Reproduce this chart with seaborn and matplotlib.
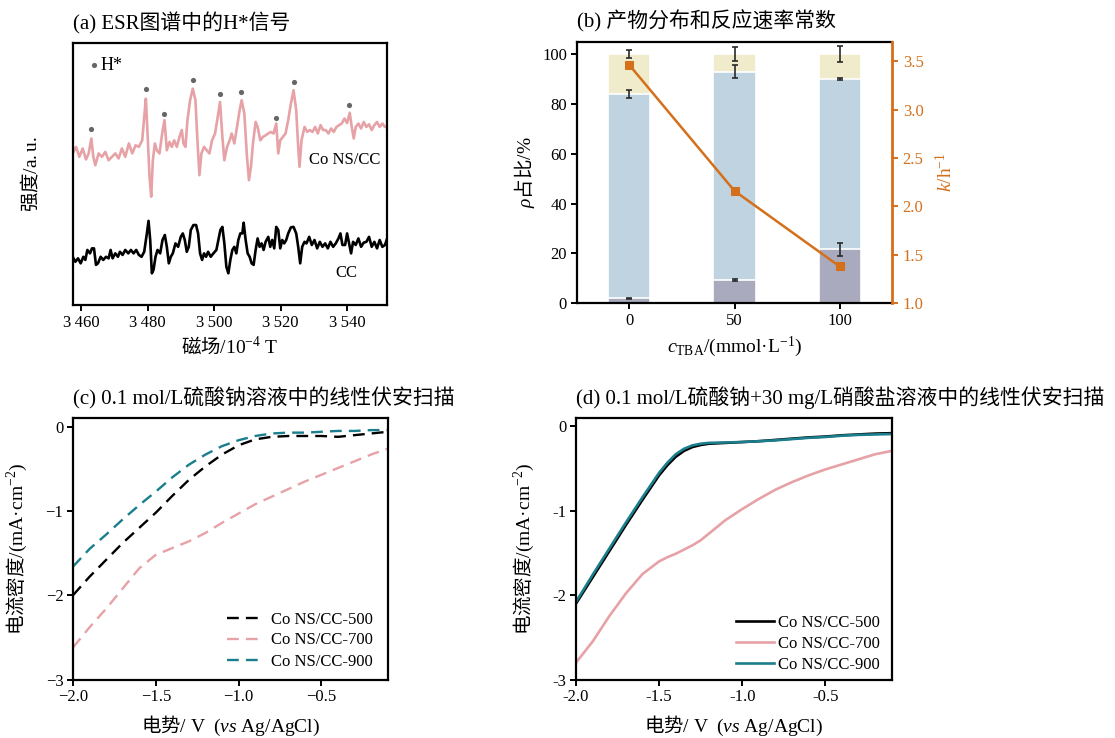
import numpy as np
import pandas as pd
import matplotlib
matplotlib.use('Agg')
import matplotlib.pyplot as plt
from matplotlib.ticker import FormatStrFormatter, FuncFormatter
import seaborn as sns

# ---------------- fonts ----------------
CJK = 'Noto Sans CJK SC'
plt.rcParams['font.family'] = ['Liberation Serif', CJK, 'DejaVu Sans']
plt.rcParams['mathtext.fontset'] = 'custom'
plt.rcParams['mathtext.rm'] = 'Liberation Serif'
plt.rcParams['mathtext.it'] = 'Liberation Serif:italic'
plt.rcParams['mathtext.bf'] = 'Liberation Serif:bold'
plt.rcParams['axes.unicode_minus'] = True
plt.rcParams['axes.linewidth'] = 1.6

PINK = '#e6a2a6'
TEAL = '#1a7e8d'
ORANGE = '#d4701b'
BEIGE = '#efebcb'
BLUE = '#bfd3e0'
GREY = '#a9aabd'

# ---------------- (a) ESR 数据 ----------------
pink_field = [
    3457.5, 3458.5, 3459.5, 3460.5, 3461.5, 3462.3, 3463.1, 3463.7, 3464.3, 3465.3,
    3466.3, 3467.3, 3468.3, 3469.3, 3470.3, 3471.3, 3472.3, 3473.3, 3474.4, 3475.4,
    3476.4, 3477.4, 3478.4, 3479.0, 3479.5, 3480.1, 3480.6, 3481.1, 3481.6, 3482.2,
    3482.8, 3483.6, 3484.4, 3485.1, 3485.8, 3486.6, 3487.3, 3488.0, 3488.8, 3489.6,
    3490.3, 3490.8, 3491.4, 3492.0, 3492.8, 3493.6, 3494.4, 3495.0, 3495.6, 3496.2,
    3497.0, 3497.8, 3498.6, 3499.4, 3500.3, 3501.1, 3501.8, 3502.5, 3503.1, 3503.9,
    3504.7, 3505.3, 3506.1, 3506.9, 3507.7, 3508.3, 3509.1, 3509.9, 3510.5, 3511.1,
    3511.7, 3512.5, 3513.1, 3513.9, 3514.7, 3515.5, 3516.3, 3517.1, 3517.9, 3518.7,
    3519.3, 3519.9, 3520.7, 3521.5, 3522.3, 3523.1, 3523.9, 3524.7, 3525.3, 3525.7,
    3526.3, 3527.2, 3528.0, 3528.8, 3529.6, 3530.4, 3531.2, 3532.0, 3532.8, 3533.6,
    3534.4, 3535.2, 3536.0, 3536.8, 3537.6, 3538.4, 3539.2, 3540.0, 3540.8, 3541.4,
    3542.0, 3542.6, 3543.4, 3544.2, 3545.0, 3545.8, 3546.6, 3547.4, 3548.2, 3549.0,
    3549.8, 3550.6, 3551.4, 3552.2]
pink_int = [
    57.9, 60.4, 56.6, 59.8, 55.6, 57.9, 63.6, 56.6, 53.4, 57.9,
    56.6, 58.5, 55.3, 56.6, 57.9, 56.0, 59.8, 56.6, 61.7, 57.9,
    61.0, 60.4, 62.9, 71.8, 78.8, 62.9, 49.0, 41.4, 55.3, 61.7,
    59.1, 57.9, 65.5, 70.6, 59.1, 62.3, 60.4, 62.9, 60.4, 64.2,
    66.8, 61.7, 60.4, 70.6, 78.2, 82.6, 78.2, 62.9, 49.6, 57.9,
    60.4, 59.1, 57.9, 62.9, 65.5, 71.8, 77.5, 64.2, 55.3, 60.4,
    62.9, 65.5, 61.7, 68.0, 74.4, 78.2, 73.1, 56.6, 47.7, 52.8,
    61.7, 69.9, 68.0, 62.9, 64.2, 64.8, 65.5, 66.1, 65.5, 69.3,
    57.9, 62.9, 64.2, 65.5, 70.6, 76.9, 82.0, 74.4, 60.4, 52.8,
    62.9, 68.0, 66.1, 66.8, 66.1, 68.0, 65.5, 68.7, 66.8, 66.8,
    65.5, 67.4, 66.1, 68.0, 68.7, 69.3, 71.2, 69.5, 73.4, 68.0,
    63.6, 68.0, 69.3, 67.4, 69.9, 68.0, 69.0, 66.8, 68.7, 69.9,
    68.0, 69.3, 68.0, 68.3]

cc_field = [
    3457.5, 3458.3, 3459.1, 3459.9, 3460.7, 3461.3, 3461.9, 3462.7, 3463.3, 3463.9,
    3464.5, 3465.1, 3465.9, 3466.7, 3467.5, 3468.3, 3468.9, 3469.5, 3470.3, 3471.1,
    3471.7, 3472.5, 3473.3, 3474.2, 3475.0, 3475.8, 3476.6, 3477.4, 3478.2, 3479.0,
    3479.8, 3480.3, 3480.8, 3481.3, 3481.8, 3482.4, 3483.0, 3483.8, 3484.5, 3485.2,
    3485.8, 3486.4, 3487.0, 3487.6, 3488.4, 3489.2, 3490.0, 3490.6, 3491.2, 3491.8,
    3492.4, 3493.0, 3493.8, 3494.6, 3495.2, 3495.8, 3496.4, 3497.0, 3497.6, 3498.2,
    3499.0, 3499.8, 3500.7, 3501.3, 3501.9, 3502.5, 3503.1, 3503.7, 3504.3, 3504.9,
    3505.5, 3506.1, 3506.7, 3507.3, 3507.9, 3508.5, 3508.9, 3509.5, 3510.1, 3510.7,
    3511.3, 3511.9, 3512.5, 3513.1, 3513.7, 3514.3, 3514.9, 3515.5, 3516.3, 3516.9,
    3517.5, 3518.1, 3518.7, 3519.3, 3519.9, 3520.5, 3521.1, 3521.7, 3522.3, 3523.1,
    3523.9, 3524.7, 3525.3, 3525.9, 3526.5, 3527.2, 3527.8, 3528.6, 3529.4, 3530.2,
    3531.0, 3531.8, 3532.6, 3533.4, 3534.2, 3535.0, 3535.8, 3536.6, 3537.4, 3538.0,
    3538.6, 3539.4, 3540.0, 3540.6, 3541.2, 3541.8, 3542.6, 3543.4, 3544.2, 3545.0,
    3545.8, 3546.6, 3547.4, 3548.2, 3549.0, 3549.8, 3550.6, 3551.4, 3552.2]
cc_int = [
    18.5, 16.6, 17.9, 16.0, 18.5, 17.3, 21.1, 19.8, 21.7, 21.7,
    15.4, 16.0, 18.5, 17.3, 18.5, 17.9, 21.1, 17.9, 19.8, 18.5,
    20.4, 19.2, 21.1, 19.8, 21.1, 19.8, 21.1, 19.2, 18.5, 20.4,
    27.4, 32.2, 24.9, 12.2, 13.5, 18.5, 21.1, 19.8, 24.9, 26.8,
    22.3, 16.0, 18.5, 19.8, 23.6, 22.3, 26.1, 27.4, 24.9, 20.4,
    22.3, 28.7, 30.6, 30.6, 27.4, 19.8, 17.3, 19.8, 18.5, 20.4,
    18.5, 19.8, 21.1, 24.9, 28.7, 29.9, 23.6, 14.7, 12.2, 17.3,
    21.1, 22.3, 19.8, 24.9, 27.4, 27.4, 31.5, 24.9, 19.8, 18.5,
    16.0, 15.4, 21.1, 25.5, 22.3, 23.6, 21.1, 24.2, 26.1, 22.3,
    24.9, 21.7, 29.9, 28.7, 21.7, 24.9, 23.6, 24.9, 27.4, 29.7,
    29.9, 27.4, 22.3, 16.0, 22.3, 24.2, 23.6, 26.1, 23.0, 24.9,
    21.7, 24.2, 22.3, 23.6, 21.7, 24.2, 22.3, 23.6, 25.5, 27.4,
    23.0, 23.0, 27.4, 23.6, 19.8, 24.2, 23.0, 25.5, 22.3, 23.9,
    24.2, 26.1, 22.3, 24.2, 21.7, 24.9, 22.3, 23.0, 26.1]

# H* 信号峰位置
hstar_field = [3463.0, 3479.5, 3485.0, 3493.6, 3501.9, 3508.1, 3518.7, 3523.9, 3540.7]
hstar_int = [67.4, 82.5, 72.8, 85.8, 80.7, 81.5, 71.3, 85.0, 76.5]
esr_ticks = [3460, 3480, 3500, 3520, 3540]
esr_ticklabels = ['3\u2009460', '3\u2009480', '3\u2009500', '3\u2009520', '3\u2009540']

# ---------------- (b) 产物分布 ----------------
c_tba = [0, 50, 100]
share_bottom = [2.0, 9.4, 21.6]
share_middle = [82.0, 83.6, 68.4]
share_top = [16.0, 7.0, 10.0]
err_bottom = [0.3, 0.3, 2.6]
err_middle = [1.5, 2.7, 0.5]
err_top = [1.6, 2.8, 3.3]
k_rate = [3.46, 2.16, 1.38]

# ---------------- (c) LSV 硫酸钠 ----------------
v_c = [-2.0, -1.9, -1.8, -1.7, -1.6, -1.5, -1.4, -1.3, -1.2, -1.1,
       -1.0, -0.9, -0.8, -0.7, -0.6, -0.5, -0.4, -0.3, -0.2, -0.1]
c_500 = [-2.00, -1.78, -1.58, -1.38, -1.20, -1.02, -0.82, -0.63, -0.47, -0.33,
         -0.22, -0.15, -0.12, -0.11, -0.11, -0.11, -0.12, -0.10, -0.08, -0.06]
c_700 = [-2.62, -2.38, -2.16, -1.92, -1.68, -1.52, -1.44, -1.36, -1.26, -1.14,
         -1.03, -0.92, -0.83, -0.74, -0.65, -0.57, -0.49, -0.41, -0.33, -0.26]
c_900 = [-1.66, -1.45, -1.28, -1.10, -0.93, -0.77, -0.60, -0.45, -0.33, -0.23,
         -0.16, -0.11, -0.08, -0.07, -0.07, -0.06, -0.05, -0.05, -0.04, -0.04]

# ---------------- (d) LSV 硫酸钠+硝酸盐 ----------------
v_d = [-2.0, -1.9, -1.8, -1.7, -1.6, -1.5, -1.45, -1.4, -1.35, -1.3, -1.25, -1.2,
       -1.1, -1.0, -0.9, -0.8, -0.7, -0.6, -0.5, -0.4, -0.3, -0.2, -0.1]
d_500 = [-2.10, -1.79, -1.48, -1.17, -0.87, -0.58, -0.46, -0.36, -0.29, -0.245, -0.22, -0.205,
         -0.195, -0.185, -0.175, -0.16, -0.145, -0.13, -0.12, -0.105, -0.095, -0.085, -0.08]
d_900 = [-2.08, -1.76, -1.45, -1.14, -0.84, -0.55, -0.43, -0.33, -0.265, -0.225, -0.205, -0.195,
         -0.19, -0.185, -0.175, -0.165, -0.15, -0.135, -0.125, -0.11, -0.10, -0.095, -0.09]
d_700 = [-2.80, -2.55, -2.25, -1.98, -1.75, -1.60, -1.55, -1.51, -1.46, -1.41, -1.35, -1.27,
         -1.11, -0.98, -0.86, -0.75, -0.66, -0.58, -0.51, -0.45, -0.39, -0.33, -0.29]
lsv_labels = ['Co NS/CC-500', 'Co NS/CC-700', 'Co NS/CC-900']
lsv_ticks = [-2.0, -1.5, -1.0, -0.5]

# ==================== 画布 ====================
W, H = 1115, 738
fig = plt.figure(figsize=(W / 100, H / 100), dpi=100)


def box(l, t, r, b):
    return [l / W, 1 - b / H, (r - l) / W, (b - t) / H]


ax_a = fig.add_axes(box(72.7, 43, 387, 305.3))
ax_b = fig.add_axes(box(576.7, 41.7, 892.3, 303.3))
ax_c = fig.add_axes(box(73, 418.3, 387.7, 679.5))
ax_d = fig.add_axes(box(576, 418, 891.7, 679.5))

for ax in (ax_a, ax_b, ax_c, ax_d):
    ax.tick_params(direction='out', length=4, width=1.4, labelsize=12, pad=3)

TITLE_KW = dict(loc='left', fontsize=15, pad=10)

# ---------------- (a) ----------------
sns.lineplot(x=pink_field, y=pink_int, color=PINK, lw=1.9, estimator=None, ax=ax_a)
sns.lineplot(x=cc_field, y=cc_int, color='black', lw=1.9, estimator=None, ax=ax_a)
sns.scatterplot(x=hstar_field, y=hstar_int, color='#666666', s=14, linewidth=0, ax=ax_a)
ax_a.scatter([0.068], [0.915], s=14, color='#666666', linewidth=0, transform=ax_a.transAxes)
ax_a.text(0.09, 0.915, 'H*', transform=ax_a.transAxes, va='center', fontsize=13)
ax_a.text(0.978, 0.553, 'Co NS/CC', transform=ax_a.transAxes, ha='right', va='center', fontsize=12)
ax_a.text(0.87, 0.122, 'CC', transform=ax_a.transAxes, ha='center', va='center', fontsize=12)
ax_a.set_xlim(3457.5, 3552)
ax_a.set_ylim(0, 100)
ax_a.set_xticks(esr_ticks)
ax_a.set_xticklabels(esr_ticklabels)
ax_a.tick_params(axis='y', left=False, labelleft=False)
ax_a.set_xlabel(r'磁场$\mathrm{/10^{-4}\ T}$', fontfamily=CJK, fontsize=14, labelpad=4)
ax_a.set_ylabel(r'强度$\mathrm{/a.u.}$', fontfamily=CJK, fontsize=14, labelpad=22)
ax_a.set_title('(a) ESR图谱中的H*信号', **TITLE_KW)

# ---------------- (b) ----------------
level_mid = [b + m for b, m in zip(share_bottom, share_middle)]
level_top = [l + t for l, t in zip(level_mid, share_top)]
for lev, col in ((level_top, BEIGE), (level_mid, BLUE), (share_bottom, GREY)):
    sns.barplot(x=c_tba, y=lev, native_scale=True, width=0.4, color=col, saturation=1,
                errorbar=None, edgecolor='white', linewidth=1.2, ax=ax_b)
for lev, err in ((level_top, err_top), (level_mid, err_middle), (share_bottom, err_bottom)):
    ax_b.errorbar(c_tba, lev, yerr=err, fmt='none', ecolor='#2a2a2a', elinewidth=1.2,
                  capsize=2.5, capthick=1.2, zorder=3)
ax_b.set_xlim(-25, 125)
ax_b.set_ylim(0, 105)
ax_b.set_xticks(c_tba)
ax_b.set_yticks([0, 20, 40, 60, 80, 100])
ax_b.spines['right'].set_visible(False)
ax_b.set_xlabel(r'$c_{\mathrm{TBA}}\mathrm{/(mmol·L^{-1})}$', fontsize=14, labelpad=4)
ax_b.set_ylabel(r'$\rho$占比$\mathrm{/\%}$', fontfamily=CJK, fontsize=14, labelpad=4)
ax_b.set_title('(b) 产物分布和反应速率常数', **TITLE_KW)

ax_k = ax_b.twinx()
sns.lineplot(x=c_tba, y=k_rate, color=ORANGE, lw=1.8, marker='s', markersize=6,
             markeredgecolor=ORANGE, estimator=None, ax=ax_k)
ax_k.set_ylim(1.0, 3.7)
ax_k.set_yticks([1.0, 1.5, 2.0, 2.5, 3.0, 3.5])
ax_k.yaxis.set_major_formatter(FormatStrFormatter('%.1f'))
ax_k.set_xlim(-25, 125)
for s in ('left', 'top', 'bottom'):
    ax_k.spines[s].set_visible(False)
ax_k.spines['right'].set_color(ORANGE)
ax_k.spines['right'].set_linewidth(2.0)
ax_k.tick_params(axis='y', colors=ORANGE, direction='out', length=4, width=1.4, labelsize=12)
ax_k.set_ylabel(r'$k\mathrm{/h^{-1}}$', color=ORANGE, fontsize=14, labelpad=8)

# ---------------- (c) ----------------
DASH = (0, (5, 3))
for y, col, lab in ((c_500, 'black', lsv_labels[0]), (c_700, PINK, lsv_labels[1]),
                    (c_900, TEAL, lsv_labels[2])):
    sns.lineplot(x=v_c, y=y, color=col, lw=1.7, linestyle=DASH, label=lab,
                 estimator=None, ax=ax_c)
ax_c.legend(loc='lower right', bbox_to_anchor=(0.984, 0.0), frameon=False, fontsize=12,
            handlelength=1.9, handletextpad=0.7, labelspacing=0.3, borderaxespad=0.2)
ax_c.set_title('(c) 0.1 mol/L硫酸钠溶液中的线性伏安扫描', **TITLE_KW)

# ---------------- (d) ----------------
for y, col, lab in ((d_500, 'black', lsv_labels[0]), (d_700, PINK, lsv_labels[1]),
                    (d_900, TEAL, lsv_labels[2])):
    sns.lineplot(x=v_d, y=y, color=col, lw=1.9, label=lab, estimator=None, ax=ax_d)
ax_d.legend(loc='lower right', bbox_to_anchor=(0.984, 0.0), frameon=False, fontsize=12,
            handlelength=2.3, handletextpad=0.25, labelspacing=0.3, borderaxespad=0.0)
ax_d.set_title('(d) 0.1 mol/L硫酸钠+30 mg/L硝酸盐溶液中的线性伏安扫描', **TITLE_KW)

uminus = FuncFormatter(lambda v, p: f'{v:.1f}'.replace('-', '\u2212'))
hyph1 = FuncFormatter(lambda v, p: f'{v:.1f}')
hyph0 = FuncFormatter(lambda v, p: f'{v:.0f}')
for ax in (ax_c, ax_d):
    ax.set_xlim(-2.0, -0.1)
    ax.set_ylim(-3, 0.1)
    ax.set_xticks(lsv_ticks)
    ax.set_yticks([-3, -2, -1, 0])
    ax.set_xlabel(r'电势$\mathrm{/\ V\ \ (}\mathit{vs}\mathrm{\ Ag/AgCl)}$',
                  fontfamily=CJK, fontsize=14, labelpad=6)
    ax.set_ylabel(r'电流密度$\mathrm{/(mA·cm^{-2})}$', fontfamily=CJK, fontsize=14, labelpad=12)
ax_c.xaxis.set_major_formatter(uminus)
ax_d.xaxis.set_major_formatter(hyph1)
ax_d.yaxis.set_major_formatter(hyph0)

fig.savefig('out.png', dpi=100)
